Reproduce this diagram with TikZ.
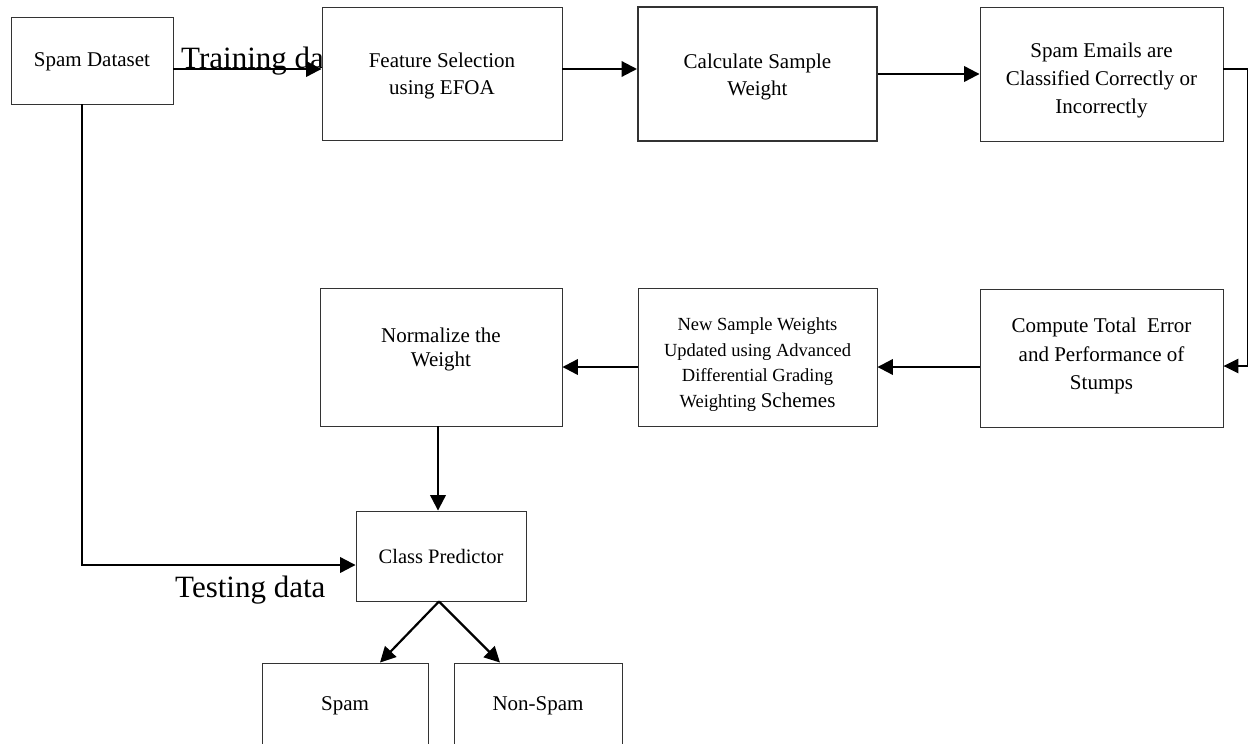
\documentclass[tikz,border=0pt]{standalone}
\usepackage{fontspec}
\setmainfont{Liberation Serif}
\usetikzlibrary{arrows.meta}
\begin{document}
\begin{tikzpicture}[x=1pt,y=-1pt,
  box/.style={draw=black!80,line width=0.9pt,fill=white,inner sep=0pt},
  txt/.style={align=center,inner sep=0pt,font=\fontsize{21}{27}\selectfont},
  big/.style={inner sep=0pt,font=\fontsize{31}{36}\selectfont},
  arr/.style={-{Triangle[length=15.5pt,width=15.5pt]},line width=2.2pt},
  thinarr/.style={-{Triangle[length=15pt,width=14.5pt]},line width=1.4pt}]
\clip (0,0) rectangle (1259,744);
\fill[white] (0,0) rectangle (1259,744);
% label drawn first, partly hidden by the next box
\node[big,anchor=base west] (train) at (181,68) {Training data};
% boxes
\node[box,minimum width=162pt,minimum height=87pt] (sd) at (92,60.5) {};
\node[box,minimum width=240pt,minimum height=133pt] (fs) at (442,73.5) {};
\node[box,line width=2pt,minimum width=239pt,minimum height=134pt] (calc) at (757.5,74) {};
\node[box,minimum width=243pt,minimum height=134pt] (se) at (1101.5,74) {};
\node[box,minimum width=243pt,minimum height=138pt] (ct) at (1101.5,358) {};
\node[box,minimum width=239pt,minimum height=138pt] (ns) at (757.5,357) {};
\node[box,minimum width=242pt,minimum height=138pt] (nm) at (441,357) {};
\node[box,minimum width=170pt,minimum height=90pt] (cp) at (441,556) {};
\node[box,minimum width=166pt,minimum height=86pt] (sp) at (345,706) {};
\node[box,minimum width=168pt,minimum height=86pt] (nsp) at (538,706) {};
% texts
\node[txt] (sdt) at (92,62) {Spam Dataset};
\node[txt] (fst) at (442,76) {Feature Selection\\using EFOA};
\node[txt] (calct) at (757.5,76.5) {Calculate Sample\\Weight};
\node[txt,font=\fontsize{21}{28}\selectfont] (set) at (1101.5,80) {Spam Emails are\\Classified Correctly or\\Incorrectly};
\node[txt,font=\fontsize{21}{28.5}\selectfont] (ctt) at (1101.5,356) {Compute Total\ \ Error\\and Performance of\\Stumps};
\node[txt,font=\fontsize{18.5}{25.7}\selectfont] (nst) at (757.5,364.5) {New Sample Weights\\Updated using Advanced\\Differential Grading\\Weighting {\fontsize{21}{25.7}\selectfont Schemes}};
\node[txt,font=\fontsize{21}{24}\selectfont] (nmt) at (441,349) {Normalize the\\Weight};
\node[txt,font=\fontsize{20.5}{24}\selectfont] (cpt) at (441,556) {Class Predictor};
\node[txt] (spt) at (345,706) {Spam};
\node[txt] (nspt) at (538,706) {Non-Spam};
\node[big,anchor=base west] (test) at (175,597) {Testing data};
% connectors
\draw[arr] ([yshift=-8.5pt]sd.east) -- ([yshift=-8.5pt]sd.east -| fs.west);
\draw[arr] ([yshift=4.5pt]fs.east) -- ([yshift=4.5pt]fs.east -| calc.west);
\draw[arr] (calc.east) -- (calc.east -| se.west);
\draw[thinarr] ([yshift=5pt]se.east) -- ++(24,0) |- ([yshift=-8pt]ct.east);
\draw[arr] ([yshift=-9pt]ct.west) -- ([yshift=-9pt]ct.west -| ns.east);
\draw[arr] ([yshift=-10pt]ns.west) -- ([yshift=-10pt]ns.west -| nm.east);
\draw[arr] ([xshift=-3pt]nm.south) -- ([xshift=-3pt]cp.north);
\draw[arr] ([xshift=-10pt]sd.south) |- ([yshift=-9pt]cp.west);
\draw[arr] ([xshift=-2pt]cp.south) -- ([xshift=35pt]sp.north);
\draw[arr] ([xshift=-2pt]cp.south) -- ([xshift=-38pt]nsp.north);
\end{tikzpicture}
\end{document}
